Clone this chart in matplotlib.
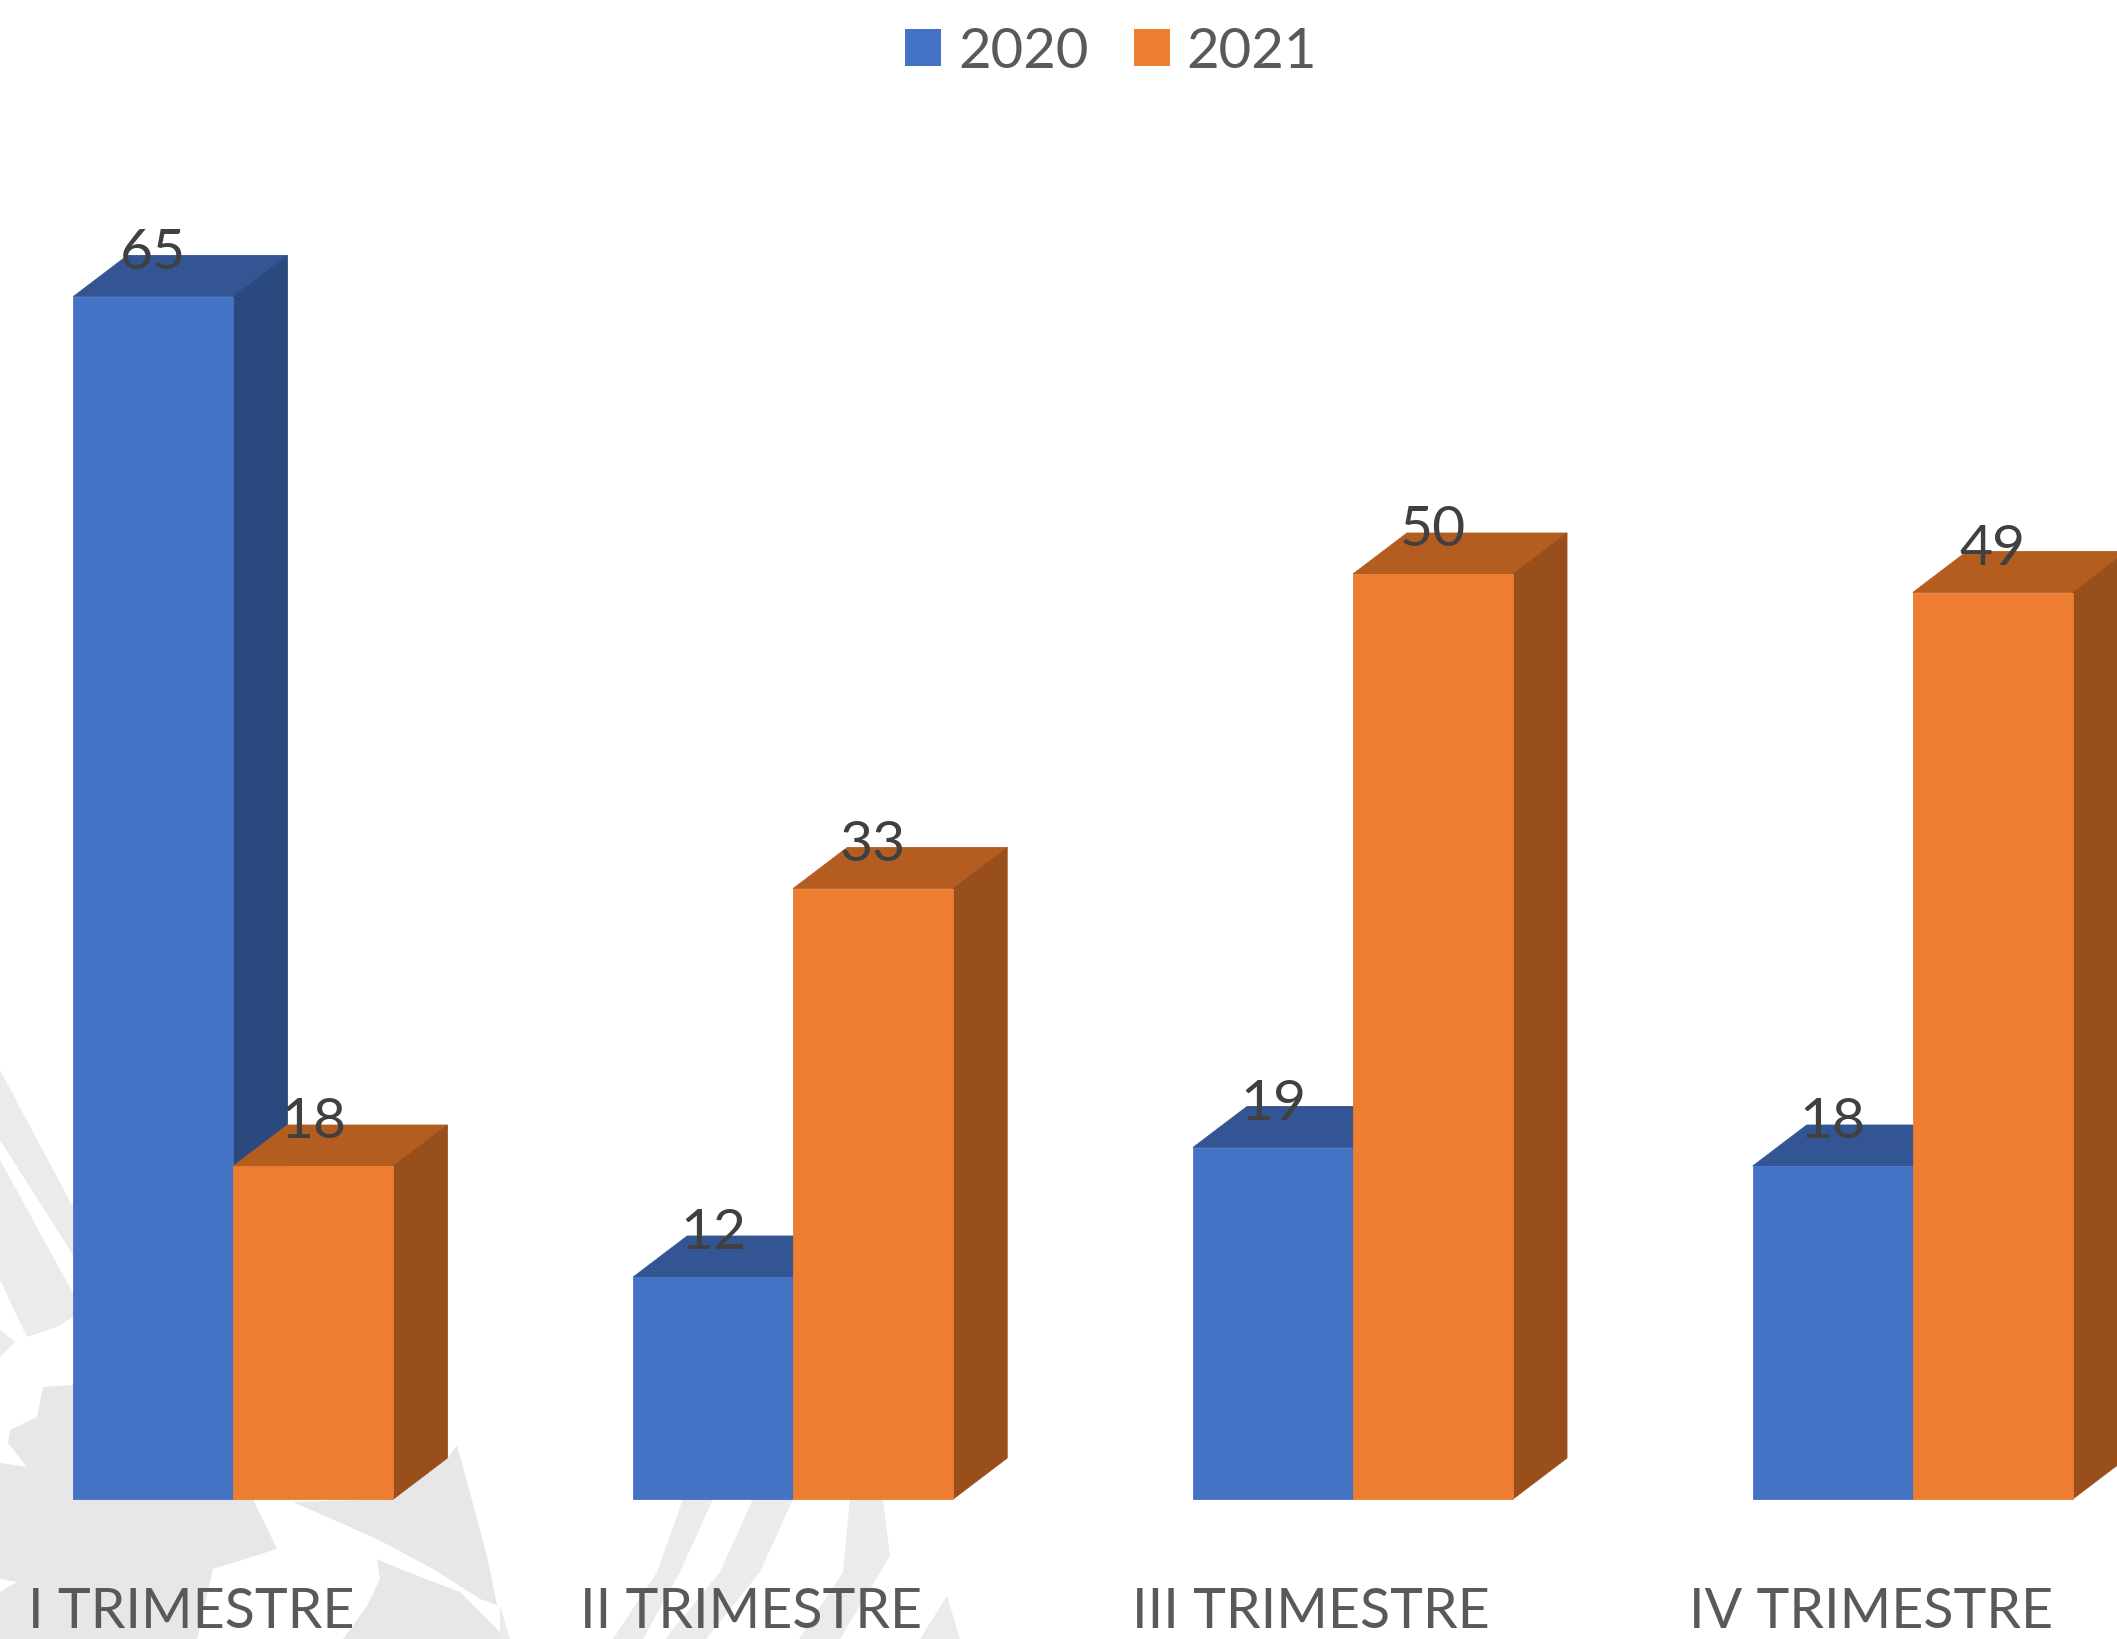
import matplotlib
matplotlib.use('Agg')
import matplotlib.pyplot as plt
from matplotlib.patches import Patch, Polygon

plt.rcParams['font.family'] = ['Lato', 'DejaVu Sans']

# Data
categories = ['I TRIMESTRE', 'II TRIMESTRE', 'III TRIMESTRE', 'IV TRIMESTRE']
values_2020 = [65, 12, 19, 18]
values_2021 = [18, 33, 50, 49]
series_names = ['2020', '2021']

W, H = 2117, 1639
GROUP_PX = 559.8   # pixels per category
UNIT_PX = 18.5     # pixels per value unit
X0_PX = 233.4      # pixel x of the first category
Y0_PX = 1499.0     # pixel y of the zero line

bar_w = 160.0 / GROUP_PX
depth_x = 54.0 / GROUP_PX
depth_y = 41.0 / UNIT_PX

fig = plt.figure(figsize=(W / 100, H / 100), dpi=100, facecolor='white')

# Faint emblem behind the chart, in picture pixels
bg = fig.add_axes([0, 0, 1, 1])
bg.set_xlim(0, W)
bg.set_ylim(H, 0)
bg.axis('off')
emblem_dark = [
    [(43, 1387), (73, 1385), (73, 1499), (253, 1499), (277, 1549), (213, 1569), (197, 1639),
     (0, 1639), (0, 1592), (17, 1582), (0, 1579), (0, 1463), (27, 1467), (8, 1443), (10, 1430), (37, 1417)],
    [(293, 1502), (393, 1499), (448, 1458), (457, 1445), (487, 1556), (497, 1605),
     (480, 1599), (433, 1569), (377, 1539)],
    [(377, 1559), (400, 1569), (460, 1592), (500, 1632), (500, 1639), (343, 1639), (367, 1606), (380, 1579)],
]
emblem_light = [
    [(0, 1070), (73, 1207), (73, 1255), (0, 1140)],
    [(0, 1160), (73, 1293), (73, 1317), (57, 1327), (27, 1337), (0, 1280)],
    [(0, 1330), (15, 1342), (0, 1357)],
    [(683, 1499), (713, 1499), (680, 1572), (643, 1639), (613, 1639), (657, 1572)],
    [(753, 1499), (793, 1499), (760, 1572), (706, 1639), (665, 1639), (720, 1572)],
    [(850, 1499), (883, 1499), (890, 1556), (840, 1639), (799, 1639), (843, 1572)],
    [(947, 1596), (960, 1639), (920, 1639)],
    [(500, 1606), (510, 1639), (500, 1639)],
]
for pts in emblem_dark:
    bg.add_patch(Polygon(pts, closed=True, facecolor='#e7e7e7', edgecolor='none'))
for pts in emblem_light:
    bg.add_patch(Polygon(pts, closed=True, facecolor='#ebebeb', edgecolor='none'))

ax = fig.add_axes([0, 0, 1, 1], facecolor='none')
ax.set_xlim(-X0_PX / GROUP_PX, (W - X0_PX) / GROUP_PX)
ax.set_ylim((Y0_PX - H) / UNIT_PX, Y0_PX / UNIT_PX)
ax.axis('off')


def draw_bar(x_left, value, front, top, side):
    x_right = x_left + bar_w
    ax.add_patch(Polygon([(x_left, value), (x_right, value),
                          (x_right + depth_x, value + depth_y), (x_left + depth_x, value + depth_y)],
                         closed=True, facecolor=top, edgecolor=top, linewidth=0.6, zorder=2))
    ax.add_patch(Polygon([(x_right, 0), (x_right + depth_x, depth_y),
                          (x_right + depth_x, value + depth_y), (x_right, value)],
                         closed=True, facecolor=side, edgecolor=side, linewidth=0.6, zorder=2))
    ax.bar(x_left, value, width=bar_w, align='edge', color=front, edgecolor=front, linewidth=0.6, zorder=3)


for i in range(len(categories)):
    draw_bar(i - bar_w, values_2020[i], '#4472C4', '#335593', '#2A4A7F')
    draw_bar(i, values_2021[i], '#ED7D31', '#B45D21', '#984F1B')

# Value labels
for i in range(len(categories)):
    ax.text(i - bar_w / 2, values_2020[i] + 1.5, str(values_2020[i]), ha='center', va='baseline',
            fontsize=41, color='#404040', zorder=5)
    ax.text(i + bar_w / 2, values_2021[i] + 1.5, str(values_2021[i]), ha='center', va='baseline',
            fontsize=41, color='#404040', zorder=5)

# Category labels
for i, name in enumerate(categories):
    ax.text(i - 0.075, -6.95, name, ha='center', va='baseline', fontsize=40, color='#595959', zorder=5)

# Legend
handles = [Patch(facecolor='#4472C4', label=series_names[0]),
           Patch(facecolor='#ED7D31', label=series_names[1])]
fig.legend(handles=handles, loc='center', bbox_to_anchor=(1111 / W, 1 - 52 / H), ncol=2, frameon=False,
           fontsize=40.5, labelcolor='#595959', handlelength=0.64, handleheight=0.64,
           handletextpad=0.3, columnspacing=0.8, borderpad=0, borderaxespad=0)

plt.savefig('out.png', dpi=100)
